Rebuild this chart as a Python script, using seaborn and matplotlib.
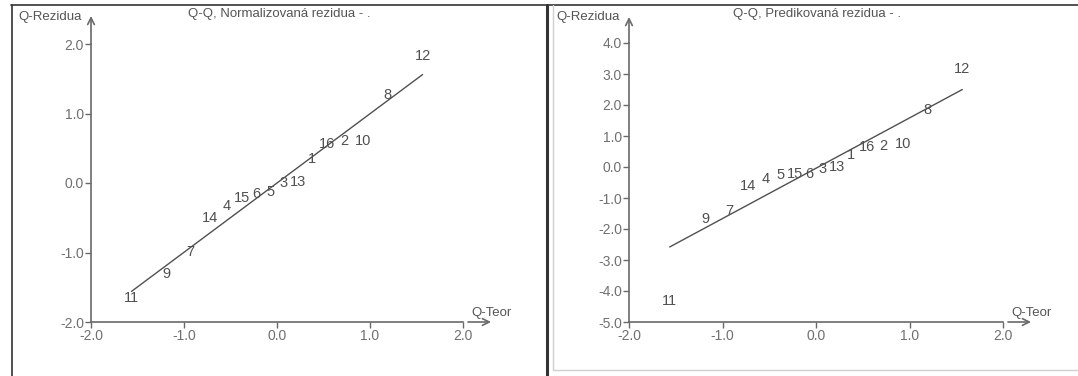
import matplotlib
matplotlib.use("Agg")
import matplotlib.pyplot as plt
import seaborn as sns
from matplotlib.lines import Line2D

# ---------------- data ----------------
q_teor = [-1.565, -1.187, -0.929, -0.722, -0.542, -0.377, -0.223, -0.074,
          0.074, 0.223, 0.377, 0.542, 0.722, 0.929, 1.187, 1.565]

left_labels = ['11', '9', '7', '14', '4', '15', '6', '5',
               '3', '13', '1', '16', '2', '10', '8', '12']
left_resid = [-1.65, -1.31, -0.99, -0.51, -0.33, -0.21, -0.16, -0.13,
              0.00, 0.02, 0.35, 0.56, 0.60, 0.61, 1.26, 1.83]
left_line_x = [-1.565, 1.565]
left_line_y = [-1.56, 1.56]

right_labels = ['11', '9', '7', '14', '4', '5', '15', '6',
                '3', '13', '1', '16', '2', '10', '8', '12']
right_resid = [-4.33, -1.68, -1.42, -0.61, -0.39, -0.26, -0.23, -0.23,
               -0.06, 0.00, 0.39, 0.65, 0.68, 0.74, 1.85, 3.15]
right_line_x = [-1.565, 1.565]
right_line_y = [-2.58, 2.50]

x_ticks = [-2.0, -1.0, 0.0, 1.0, 2.0]
left_y_ticks = [-2.0, -1.0, 0.0, 1.0, 2.0]
right_y_ticks = [-5.0, -4.0, -3.0, -2.0, -1.0, 0.0, 1.0, 2.0, 3.0, 4.0]

left_title = "Q-Q, Normalizovaná rezidua - ."
right_title = "Q-Q, Predikovaná rezidua - ."
y_name = "Q-Rezidua"
x_name = "Q-Teor"

# ---------------- style ----------------
sns.set_theme(style="white")
plt.rcParams['font.family'] = ['Liberation Sans', 'DejaVu Sans']

W, H = 1078, 376
fig = plt.figure(figsize=(W / 100, H / 100), dpi=100)
fig.patch.set_facecolor('white')


def rect(x0, x1, y_top, y_bot):
    return [x0 / W, 1 - y_bot / H, (x1 - x0) / W, (y_bot - y_top) / H]


AX_COL = '#6a6a6a'
TXT_COL = '#555555'
PT_COL = '#505050'


def draw_panel(ax, labels, resid, lx, ly, yticks, ylim, axis_px, arrow_top_px):
    x0, x1, yt, yb = axis_px
    sns.lineplot(x=lx, y=ly, ax=ax, color='#505050', linewidth=1.0)
    for lab, xv, yv in zip(labels, q_teor, resid):
        ax.text(xv, yv, lab, ha='center', va='center', fontsize=10.5,
                color=PT_COL)
    ax.set_xlim(x_ticks[0], x_ticks[-1])
    ax.set_ylim(*ylim)
    ax.set_xticks(x_ticks)
    ax.set_xticklabels([f"{v:.1f}" for v in x_ticks])
    ax.set_yticks(yticks)
    ax.set_yticklabels([f"{v:.1f}" for v in yticks])
    for s in ['top', 'right']:
        ax.spines[s].set_visible(False)
    for s in ['left', 'bottom']:
        ax.spines[s].set_color(AX_COL)
        ax.spines[s].set_linewidth(1.2)
    ax.tick_params(axis='both', which='both', bottom=True, left=True,
                   direction='out', length=4, width=1, color=AX_COL,
                   labelcolor='#707070', labelsize=10, pad=1.0)
    ax.grid(False)
    ax.set_xlabel('')
    ax.set_ylabel('')
    wpx = x1 - x0
    hpx = yb - yt
    # y-axis arrow
    ax.annotate('', xy=(0, 1 + (yt - arrow_top_px) / hpx), xytext=(0, 1),
                xycoords='axes fraction', textcoords='axes fraction',
                arrowprops=dict(arrowstyle='->', color=AX_COL, lw=1.2,
                                shrinkA=0, shrinkB=0, mutation_scale=12),
                annotation_clip=False)
    # x-axis arrow (separate)
    ax.annotate('', xy=(1 + 28 / wpx, 0), xytext=(1 + 5 / wpx, 0),
                xycoords='axes fraction', textcoords='axes fraction',
                arrowprops=dict(arrowstyle='->', color=AX_COL, lw=1.2,
                                shrinkA=0, shrinkB=0, mutation_scale=12),
                annotation_clip=False)
    ax.text(-9 / wpx, 1 + (yt - 17) / hpx, y_name, transform=ax.transAxes,
            ha='right', va='center', fontsize=9.5, color=TXT_COL)
    ax.text(1 + 8 / wpx, 9 / hpx, x_name, transform=ax.transAxes,
            ha='left', va='center', fontsize=9.5, color=TXT_COL)


ax1 = fig.add_axes(rect(91, 463, 44, 322))
draw_panel(ax1, left_labels, left_resid, left_line_x, left_line_y,
           left_y_ticks, (-2.0, 2.0), (91, 463, 44, 322), 16)

ax2 = fig.add_axes(rect(629, 1003, 43, 322))
draw_panel(ax2, right_labels, right_resid, right_line_x, right_line_y,
           right_y_ticks, (-5.0, 4.0), (629, 1003, 43, 322), 17)

fig.text(279 / W, 1 - 14 / H, left_title, ha='center', va='center',
         fontsize=9.5, color=TXT_COL)
fig.text(817 / W, 1 - 14 / H, right_title, ha='center', va='center',
         fontsize=9.5, color=TXT_COL)


def fline(xs, ys, **kw):
    fig.add_artist(Line2D([x / W for x in xs], [1 - y / H for y in ys],
                          transform=fig.transFigure, **kw))


fline([11.5, 11.5], [5, 376], color='#333333', lw=1.2)
fline([11, 1078], [5, 5], color='#333333', lw=1.2)
fline([547, 547], [5, 376], color='#333333', lw=2.2)
fline([553, 553], [5, 370], color='#d0d0d0', lw=1.0)
fline([553, 1078], [370, 370], color='#d0d0d0', lw=1.0)

fig.savefig('out.png', dpi=100)
